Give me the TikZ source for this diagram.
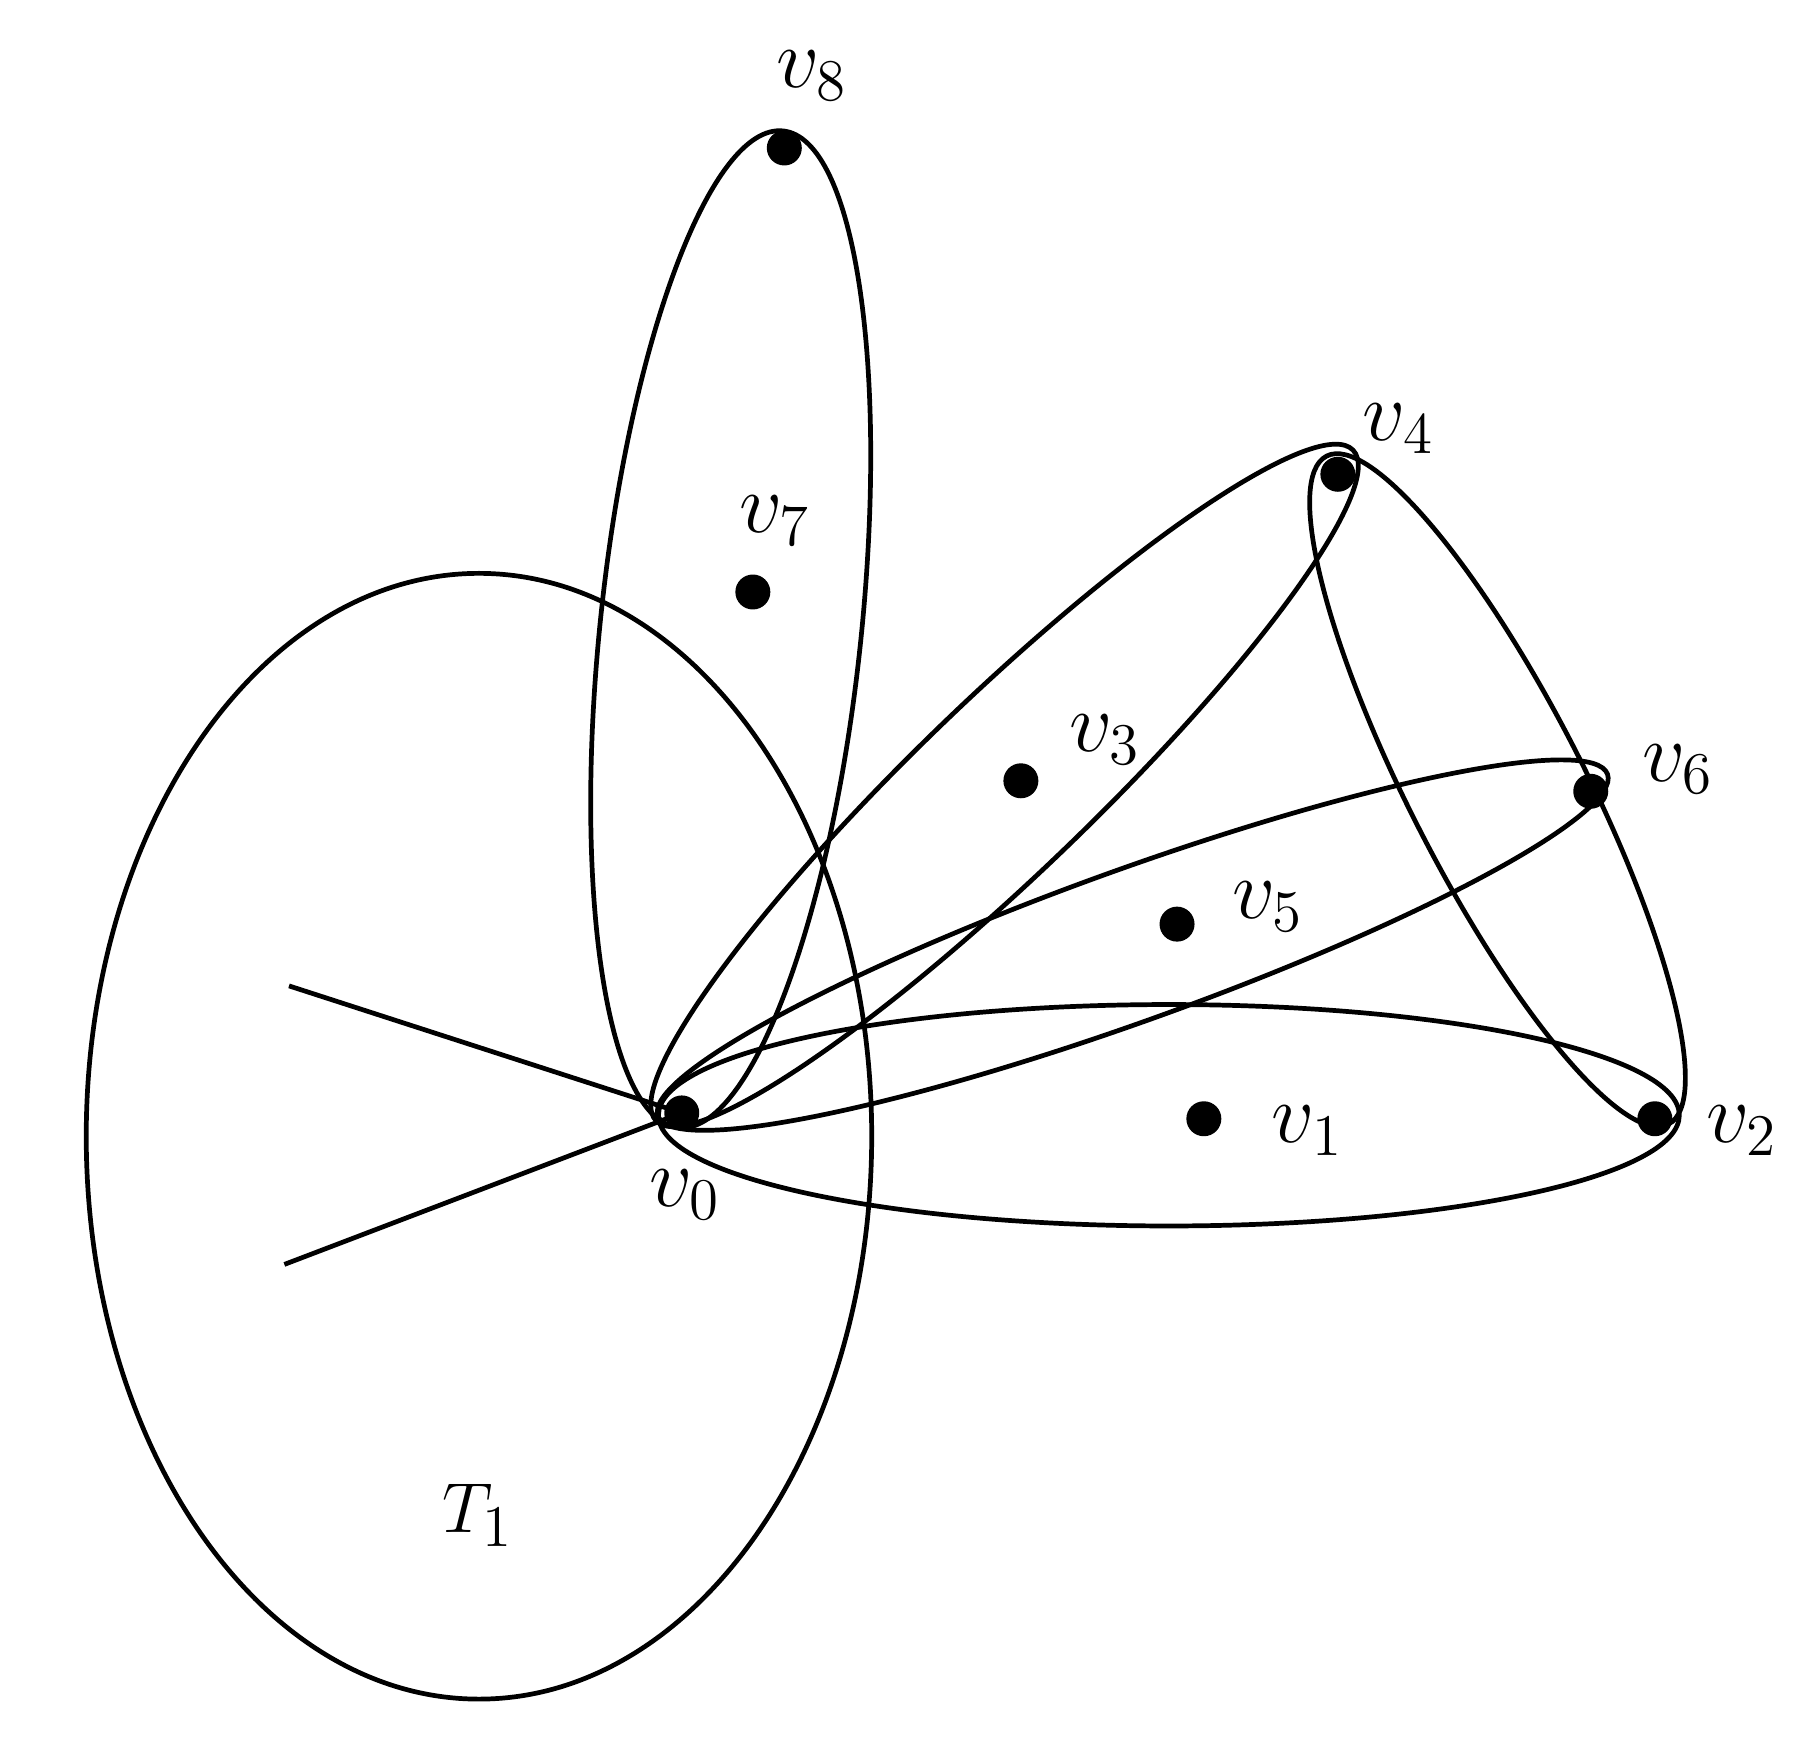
\documentclass[tikz,border=0pt]{standalone}
\begin{document}
\begin{tikzpicture}[x=0.01cm,y=0.01cm,line width=1.15pt,
  dot/.style={circle,fill=black,inner sep=0pt,minimum size=0.3cm},
  lab/.style={font=\fontsize{22}{26}\selectfont}]
\useasboundingbox (0,0) rectangle (1560,1503);
\node[dot] (v0) at (585,548) {};
\node[dot] (v1) at (1033,543) {};
\node[dot] (v2) at (1420,543) {};
\node[dot] (v3) at (876,833) {};
\node[dot] (v4) at (1148,1096) {};
\node[dot] (v5) at (1010,710) {};
\node[dot] (v6) at (1365,824) {};
\node[dot] (v7) at (646,995) {};
\node[dot] (v8) at (673,1376) {};
\node[lab] (l0) at (588,478) {$v_0$};
\node[lab] (l1) at (1122,533) {$v_1$};
\node[lab] (l2) at (1495,533) {$v_2$};
\node[lab] (l3) at (948,868) {$v_3$};
\node[lab] (l4) at (1200,1135) {$v_4$};
\node[lab] (l5) at (1088,725) {$v_5$};
\node[lab] (l6) at (1440,843) {$v_6$};
\node[lab] (l7) at (665,1056) {$v_7$};
\node[lab] (l8) at (697,1438) {$v_8$};
\node[font=\fontsize{19}{23}\selectfont] (t1) at (410,203) {$T_1$};
\coordinate (a) at (248,657);
\coordinate (b) at (244,418);
\draw (a) -- (v0.center) -- (b);
\draw (411,528) ellipse (337 and 483);
\draw[rotate around={84:(627,963)}] (627,963) ellipse (430 and 112);
\draw[rotate around={43.9:(862,829)}] (862,829) ellipse (415 and 75);
\draw[rotate around={19.8:(972,692)}] (972,692) ellipse (433 and 65);
\draw (1003,546) ellipse (438 and 95);
\draw[rotate around={-62.9:(1285,825)}] (1285,825) ellipse (322 and 75);
\end{tikzpicture}
\end{document}
